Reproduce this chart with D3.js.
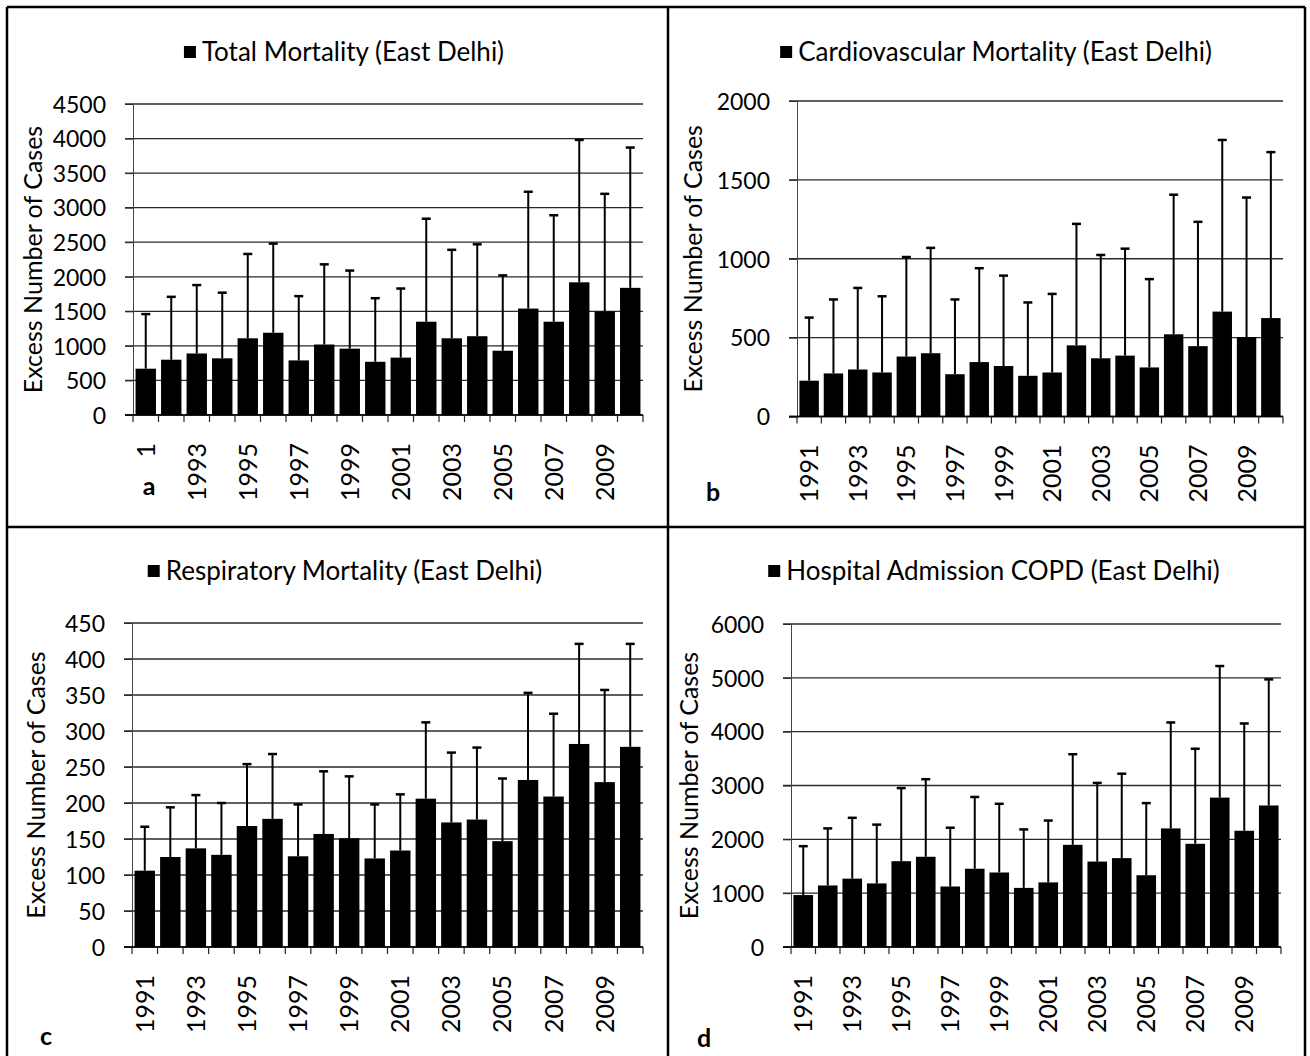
<!DOCTYPE html>
<html>
<head>
<meta charset="utf-8">
<script src="https://cdn.jsdelivr.net/npm/d3@7"></script>
<style>
    body { margin: 0; background: #fff; }
    text { font-family: Lato, "Open Sans", sans-serif; fill: #000; }
</style>
</head>
<body>
<script>
//years on the x axis
var years = [1991, 1992, 1993, 1994, 1995, 1996, 1997, 1998, 1999, 2000,
             2001, 2002, 2003, 2004, 2005, 2006, 2007, 2008, 2009, 2010];
var labelYears = [1991, 1993, 1995, 1997, 1999, 2001, 2003, 2005, 2007, 2009];

//a: total mortality
var totalMean  = [670, 800, 890, 820, 1110, 1190, 790, 1020, 960, 770,
                  830, 1350, 1110, 1140, 930, 1540, 1350, 1920, 1500, 1840];
var totalUpper = [1460, 1710, 1880, 1770, 2330, 2480, 1720, 2180, 2090, 1690,
                  1830, 2840, 2390, 2470, 2020, 3230, 2890, 3980, 3200, 3870];
var totalTicks = [0, 500, 1000, 1500, 2000, 2500, 3000, 3500, 4000, 4500];

//b: cardiovascular mortality
var cardioMean  = [227, 273, 298, 279, 380, 401, 268, 345, 320, 258,
                   279, 451, 369, 386, 311, 521, 446, 665, 504, 624];
var cardioUpper = [627, 742, 815, 762, 1011, 1069, 742, 940, 893, 723,
                   777, 1221, 1024, 1064, 871, 1406, 1234, 1753, 1388, 1676];
var cardioTicks = [0, 500, 1000, 1500, 2000];

//c: respiratory mortality
var respMean  = [106, 125, 137, 128, 168, 178, 126, 157, 151, 123,
                 134, 206, 173, 177, 147, 232, 209, 282, 229, 278];
var respUpper = [167, 194, 211, 200, 254, 268, 198, 244, 237, 198,
                 212, 312, 270, 277, 234, 353, 324, 421, 357, 421];
var respTicks = [0, 50, 100, 150, 200, 250, 300, 350, 400, 450];

//d: hospital admission COPD
var copdMean  = [965, 1143, 1270, 1181, 1594, 1676, 1124, 1454, 1384, 1098,
                 1200, 1898, 1587, 1651, 1333, 2203, 1917, 2775, 2159, 2629];
var copdUpper = [1873, 2203, 2400, 2273, 2952, 3117, 2216, 2787, 2660, 2184,
                 2349, 3581, 3048, 3219, 2673, 4171, 3683, 5219, 4152, 4971];
var copdTicks = [0, 1000, 2000, 3000, 4000, 5000, 6000];

var titles = ["Total Mortality (East Delhi)", "Cardiovascular Mortality (East Delhi)",
              "Respiratory Mortality (East Delhi)", "Hospital Admission COPD (East Delhi)"];
var letters = ["a", "b", "c", "d"];
var yTitle = "Excess Number of Cases";

window.onload = setPage();

function setPage(){
    var width = 1310,
        height = 1056;

    var svg = d3.select("body")
        .append("svg")
        .attr("width", width)
        .attr("height", height);

    //panel layout
    var panels = [
        {mean: totalMean, upper: totalUpper, ticks: totalTicks,
         left: 133, right: 643, top: 104, bottom: 415,
         cx: 344, titleY: 52, yTitleX: 33, letterX: 149, letterY: 486, cover: true},
        {mean: cardioMean, upper: cardioUpper, ticks: cardioTicks,
         left: 797, right: 1283, top: 101, bottom: 416.5,
         cx: 996, titleY: 52, yTitleX: 693, letterX: 713, letterY: 492},
        {mean: respMean, upper: respUpper, ticks: respTicks,
         left: 132, right: 643, top: 623, bottom: 947,
         cx: 345, titleY: 571, yTitleX: 36, letterX: 46, letterY: 1036},
        {mean: copdMean, upper: copdUpper, ticks: copdTicks,
         left: 791, right: 1281, top: 624, bottom: 947,
         cx: 994, titleY: 571, yTitleX: 689, letterX: 704, letterY: 1038}
    ];

    panels.forEach(function(p, i){
        p.title = titles[i];
        p.letter = letters[i];
        drawPanel(svg, p);
    });

    //panel frames
    var frame = svg.append("g")
        .attr("stroke", "#000")
        .attr("stroke-width", 2.5);
    [[7, 7, 1305, 7], [7, 527, 1305, 527], [7, 7, 7, 1060],
     [668, 7, 668, 1060], [1305, 7, 1305, 1060]].forEach(function(l){
        frame.append("line")
            .attr("x1", l[0]).attr("y1", l[1])
            .attr("x2", l[2]).attr("y2", l[3]);
    });
};

function drawPanel(svg, p){
    var g = svg.append("g");
    var max = p.ticks[p.ticks.length - 1];

    var xScale = d3.scaleBand()
        .domain(years)
        .range([p.left, p.right])
        .paddingInner(0.2)
        .paddingOuter(0.1);

    var yScale = d3.scaleLinear()
        .domain([0, max])
        .range([p.bottom, p.top]);

    //gridlines
    g.selectAll(".grid")
        .data(p.ticks)
        .enter()
        .append("line")
        .attr("class", "grid")
        .attr("x1", p.left - 8)
        .attr("x2", p.right)
        .attr("y1", function(d){ return yScale(d); })
        .attr("y2", function(d){ return yScale(d); })
        .attr("stroke", "#2a2a2a")
        .attr("stroke-width", 1.3);

    //y axis
    var yAxis = g.append("g")
        .attr("transform", "translate(" + p.left + ",0)")
        .call(d3.axisLeft(yScale)
            .tickValues(p.ticks)
            .tickFormat(d3.format("d"))
            .tickSize(8)
            .tickPadding(19));
    yAxis.select(".domain").attr("stroke", "#444").attr("stroke-width", 1);
    yAxis.selectAll("line").attr("stroke", "#2a2a2a");
    yAxis.selectAll("text")
        .style("font-size", "23px")
        .attr("dy", "0.36em");

    //bars
    g.selectAll(".bar")
        .data(p.mean)
        .enter()
        .append("rect")
        .attr("class", "bar")
        .attr("x", function(d, i){ return xScale(years[i]); })
        .attr("width", xScale.bandwidth())
        .attr("y", function(d){ return yScale(d); })
        .attr("height", function(d){ return p.bottom - yScale(d); })
        .attr("fill", "#000");

    //error bars (upper half visible)
    var err = g.selectAll(".err")
        .data(p.upper)
        .enter()
        .append("g")
        .attr("class", "err")
        .attr("transform", function(d, i){
            return "translate(" + (xScale(years[i]) + xScale.bandwidth() / 2) + ",0)";
        });
    err.append("line")
        .attr("y1", function(d, i){ return yScale(p.mean[i]); })
        .attr("y2", function(d){ return yScale(d); })
        .attr("stroke", "#000")
        .attr("stroke-width", 2);
    err.append("line")
        .attr("x1", -4.5).attr("x2", 4.5)
        .attr("y1", function(d){ return yScale(d); })
        .attr("y2", function(d){ return yScale(d); })
        .attr("stroke", "#000")
        .attr("stroke-width", 2.5);

    //x axis line and category boundary ticks
    g.append("line")
        .attr("x1", p.left - 8).attr("x2", p.right)
        .attr("y1", p.bottom).attr("y2", p.bottom)
        .attr("stroke", "#000")
        .attr("stroke-width", 1.5);
    var step = xScale.step();
    g.selectAll(".xtick")
        .data(d3.range(years.length + 1))
        .enter()
        .append("line")
        .attr("x1", function(d){ return p.left + d * step; })
        .attr("x2", function(d){ return p.left + d * step; })
        .attr("y1", p.bottom)
        .attr("y2", p.bottom + 7)
        .attr("stroke", "#222")
        .attr("stroke-width", 1.2);

    //x labels, rotated
    var xAxis = g.append("g")
        .attr("transform", "translate(0," + p.bottom + ")")
        .call(d3.axisBottom(xScale).tickValues(labelYears).tickSize(0));
    xAxis.select(".domain").remove();
    xAxis.selectAll("text")
        .style("font-size", "25px")
        .attr("transform", "rotate(-90)")
        .attr("text-anchor", "end")
        .attr("x", -28)
        .attr("y", 0)
        .attr("dy", "0.36em");

    //y axis title
    g.append("text")
        .attr("transform", "translate(" + p.yTitleX + "," + ((p.top + p.bottom) / 2) + ") rotate(-90)")
        .attr("text-anchor", "middle")
        .attr("dy", "0.36em")
        .style("font-size", "25px")
        .text(yTitle);

    //legend title: square + text, centred on the panel
    var legend = g.append("g");
    var legendText = legend.append("text")
        .attr("x", 18)
        .attr("y", p.titleY)
        .attr("dy", "0.36em")
        .style("font-size", "26px")
        .text(p.title);
    var tw = legendText.node().getComputedTextLength();
    legend.append("rect")
        .attr("x", 0)
        .attr("y", p.titleY - 6)
        .attr("width", 12)
        .attr("height", 12)
        .attr("fill", "#000");
    legend.attr("transform", "translate(" + (p.cx - (tw + 18) / 2) + ",0)");

    //panel letter
    if (p.cover){
        g.append("rect")
            .attr("x", p.letterX - 13)
            .attr("y", 456)
            .attr("width", 26)
            .attr("height", 52)
            .attr("fill", "#fff");
    }
    g.append("text")
        .attr("x", p.letterX)
        .attr("y", p.letterY)
        .attr("text-anchor", "middle")
        .attr("dy", "0.36em")
        .style("font-size", "25px")
        .style("font-weight", "bold")
        .text(p.letter);
};
</script>
</body>
</html>
